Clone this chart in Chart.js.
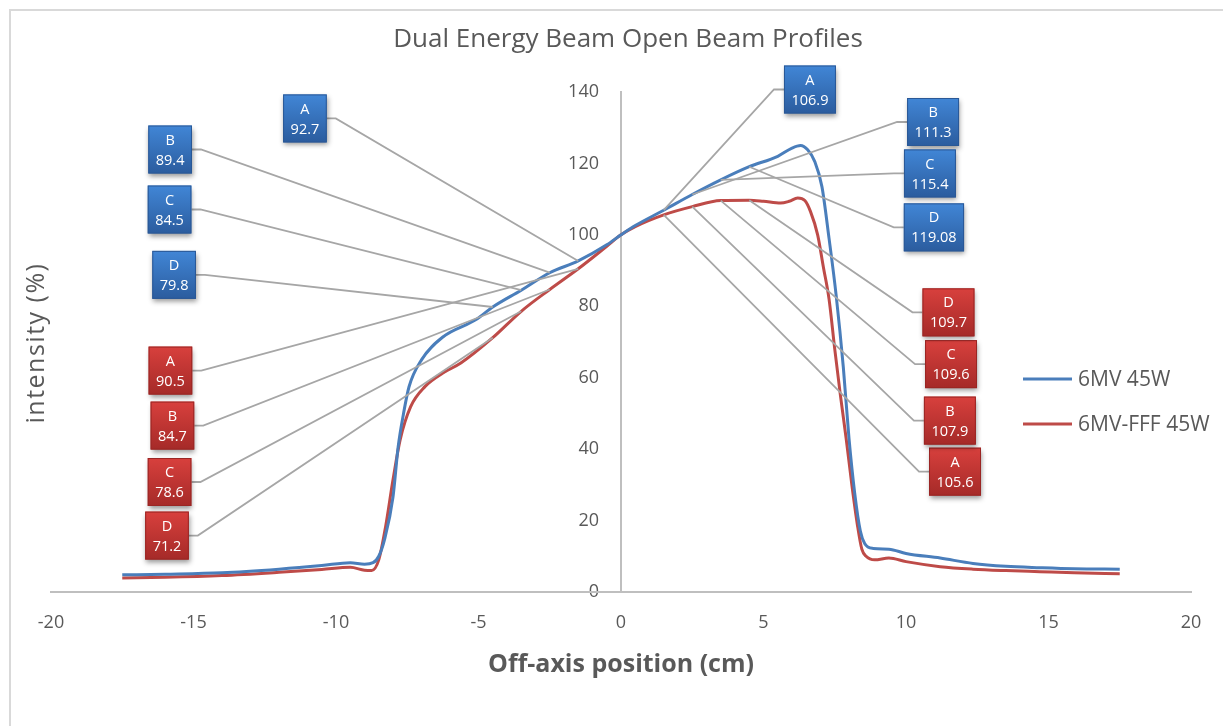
<!DOCTYPE html>
<html>
<head>
<meta charset="utf-8">
<script src="https://cdn.jsdelivr.net/npm/chart.js@4.4.1/dist/chart.umd.min.js"></script>
<style>
  html, body { margin: 0; padding: 0; background: #fff; }
  #wrap { width: 1223px; height: 726px; position: relative; }
</style>
</head>
<body>
<div id="wrap"><canvas id="beamChart" width="1223" height="726"></canvas></div>
<script>
const chartTitle = "Dual Energy Beam Open Beam Profiles";
const xTitle = "Off-axis position (cm)";
const yTitle = "intensity (%)";
const seriesNames = ["6MV 45W", "6MV-FFF 45W"];

// 6MV 45W profile (position in cm, intensity in %)
const flatX = [-17.5, -16, -14, -12, -10.5, -9.5, -9.0, -8.7, -8.5, -8.3, -8.0, -7.82, -7.63, -7.44, -7.0, -6.25, -5.1,
  -4.5, -3.5, -2.5, -1.5, -0.5, 0, 0.5, 1.5, 2.5, 3.5, 4.5, 5.5, 6.0, 6.3, 6.55, 6.8, 7.05, 7.3, 7.55, 7.8, 8.0, 8.2,
  8.4, 8.55, 8.85, 9.4, 10.0, 11.2, 12.35, 13.5, 14.7, 15.9, 17.5];
const flatY = [4.8, 5.0, 5.4, 6.4, 7.4, 8.2, 7.8, 8.2, 10, 14.6, 26.6, 40.6, 50, 57.4, 65, 71.4, 76.2,
  79.8, 84.5, 89.4, 92.7, 97.2, 100, 102.6, 106.9, 111.3, 115.4, 119.08, 122, 124.3, 125, 123.8, 120.5, 113.5, 99, 83, 63, 43, 27.7,
  17, 13.6, 12.2, 12.0, 10.8, 9.5, 8.0, 7.2, 6.8, 6.5, 6.4];

// 6MV-FFF 45W profile
const fffX = [-17.5, -16, -14, -12, -10.5, -9.5, -9.0, -8.75, -8.5, -8.26, -8.0, -7.75, -7.38, -6.88, -6.25, -5.62,
  -4.5, -3.5, -2.5, -1.5, -0.5, 0, 0.5, 1.5, 2.5, 3.5, 4.5, 5.0, 5.6, 5.9, 6.2, 6.45, 6.65, 6.9, 7.1, 7.3, 7.5, 7.7, 7.9,
  8.1, 8.3, 8.45, 8.6, 8.9, 9.4, 10.0, 11.2, 12.35, 13.5, 14.7, 15.9, 17.5];
const fffY = [3.9, 4.1, 4.6, 5.5, 6.3, 6.9, 6.1, 6.0, 9, 18.3, 31.4, 42.6, 51.9, 57.5, 61.3, 64.1,
  71.2, 78.6, 84.7, 90.5, 96.8, 100, 102.3, 105.6, 107.9, 109.6, 109.7, 109.4, 108.9, 109.4, 110.3, 109.6, 106.5, 100, 91, 82, 68, 55, 43,
  30, 18.5, 12, 10, 9.0, 9.5, 8.5, 7.1, 6.4, 6.0, 5.7, 5.4, 5.1];

// callout labels: letter, off-axis position (cm) and the value shown
const calloutLetters = ["A", "B", "C", "D"];
const calloutPos = [1.5, 2.5, 3.5, 4.5];
const flatLeftVals = [92.7, 89.4, 84.5, 79.8];
const flatRightVals = [106.9, 111.3, 115.4, 119.08];
const fffLeftVals = [90.5, 84.7, 78.6, 71.2];
const fffRightVals = [105.6, 107.9, 109.6, 109.7];

// where each callout box sits, in axis units (A, B, C, D)
const flatLeftBox = [[-11.09, 132.6], [-15.82, 123.9], [-15.84, 107.1], [-15.68, 88.8]];
const fffLeftBox = [[-15.81, 62.0], [-15.74, 46.6], [-15.84, 30.8], [-15.93, 15.8]];
const flatRightBox = [[6.63, 140.7], [10.95, 131.6], [10.84, 117.2], [10.98, 102.1]];
const fffRightBox = [[11.72, 33.7], [11.54, 48.0], [11.58, 63.8], [11.49, 78.3]];

const BLUE = "#4A7EBB";
const RED = "#BE4B48";
const TEXT = "#595959";
const FONT = '"Open Sans", "Noto Sans", sans-serif';

const bluePalette = ["#4186D6", "#2B5C9E", "#2A5896"];
const redPalette = ["#D8403D", "#A52A28", "#9A2624"];

const toPoints = (xs, ys) => xs.map((v, i) => ({ x: v, y: ys[i] }));

const callouts = [];
calloutLetters.forEach((letter, i) => {
  callouts.push({ side: -1, x: -calloutPos[i], val: flatLeftVals[i], box: flatLeftBox[i], letter, pal: bluePalette });
  callouts.push({ side: -1, x: -calloutPos[i], val: fffLeftVals[i], box: fffLeftBox[i], letter, pal: redPalette });
  callouts.push({ side: 1, x: calloutPos[i], val: flatRightVals[i], box: flatRightBox[i], letter, pal: bluePalette });
  callouts.push({ side: 1, x: calloutPos[i], val: fffRightVals[i], box: fffRightBox[i], letter, pal: redPalette });
});

const extrasPlugin = {
  id: "extras",
  beforeDraw(chart) {
    const ctx = chart.ctx;
    ctx.save();
    // chart frame
    ctx.strokeStyle = "#D9D9D9";
    ctx.lineWidth = 2;
    ctx.strokeRect(10, 10, 1400, 900);
    // title
    ctx.fillStyle = TEXT;
    ctx.font = "26px " + FONT;
    ctx.textAlign = "center";
    ctx.textBaseline = "middle";
    ctx.fillText(chartTitle, 628, 40);
    // y axis tick labels, left of the centred axis
    const { x, y } = chart.scales;
    ctx.font = "18px " + FONT;
    ctx.textAlign = "right";
    y.ticks.forEach(t => {
      ctx.fillText(String(t.value), x.getPixelForValue(0) - 22, y.getPixelForValue(t.value));
    });
    // y axis title
    ctx.font = "25px " + FONT;
    ctx.textAlign = "center";
    ctx.letterSpacing = "1.5px";
    ctx.translate(37, 343);
    ctx.rotate(-Math.PI / 2);
    ctx.fillText(yTitle, 0, 0);
    ctx.restore();
  },
  afterDatasetsDraw(chart) {
    const { ctx, scales: { x, y } } = chart;
    ctx.save();
    ctx.font = "14.5px " + FONT;
    const boxes = callouts.map(c => {
      const text = [c.letter, String(c.val)];
      const w = Math.max(...text.map(t => ctx.measureText(t).width)) + 15;
      const cx = x.getPixelForValue(c.box[0]);
      const cy = y.getPixelForValue(c.box[1]);
      return { c, text, w, h: 48, cx, cy };
    });
    // leader lines
    ctx.strokeStyle = "#A6A6A6";
    ctx.lineWidth = 1.8;
    boxes.forEach(b => {
      const near = b.c.side < 0 ? b.cx + b.w / 2 : b.cx - b.w / 2;
      const stub = b.c.side < 0 ? near + 9 : near - 10;
      ctx.beginPath();
      ctx.moveTo(near, b.cy);
      ctx.lineTo(stub, b.cy);
      ctx.lineTo(x.getPixelForValue(b.c.x), y.getPixelForValue(b.c.val));
      ctx.stroke();
    });
    // boxes
    boxes.forEach(b => {
      const left = b.cx - b.w / 2, top = b.cy - b.h / 2;
      ctx.save();
      ctx.shadowColor = "rgba(0,0,0,0.4)";
      ctx.shadowBlur = 5;
      ctx.shadowOffsetX = 1;
      ctx.shadowOffsetY = 3;
      const g = ctx.createLinearGradient(0, top, 0, top + b.h);
      g.addColorStop(0, b.c.pal[0]);
      g.addColorStop(1, b.c.pal[1]);
      ctx.fillStyle = g;
      ctx.fillRect(left, top, b.w, b.h);
      ctx.restore();
      ctx.strokeStyle = b.c.pal[2];
      ctx.lineWidth = 1;
      ctx.strokeRect(left + 0.5, top + 0.5, b.w - 1, b.h - 1);
      ctx.fillStyle = "#fff";
      ctx.textAlign = "center";
      ctx.textBaseline = "middle";
      ctx.fillText(b.text[0], b.cx, top + 15);
      ctx.fillText(b.text[1], b.cx, top + 35);
    });
    // legend
    ctx.font = "21px " + FONT;
    ctx.textAlign = "left";
    [BLUE, RED].forEach((col, i) => {
      const ly = 379 + i * 45;
      ctx.strokeStyle = col;
      ctx.lineWidth = 3;
      ctx.beginPath();
      ctx.moveTo(1023, ly);
      ctx.lineTo(1072, ly);
      ctx.stroke();
      ctx.fillStyle = TEXT;
      ctx.fillText(seriesNames[i], 1078, ly + 1);
    });
    ctx.restore();
  }
};

new Chart(document.getElementById("beamChart"), {
  type: "line",
  data: {
    datasets: [
      { label: seriesNames[0], data: toPoints(flatX, flatY), borderColor: BLUE, borderWidth: 3 },
      { label: seriesNames[1], data: toPoints(fffX, fffY), borderColor: RED, borderWidth: 3 }
    ]
  },
  options: {
    responsive: false,
    animation: false,
    elements: {
      point: { radius: 0 },
      line: { cubicInterpolationMode: "monotone", fill: false }
    },
    layout: { padding: { left: 51, right: 32, top: 92, bottom: 0 } },
    plugins: { legend: { display: false }, title: { display: false }, tooltip: { enabled: false } },
    scales: {
      x: {
        type: "linear",
        min: -20,
        max: 20,
        afterFit: s => { s.height = 134; },
        ticks: { stepSize: 5, autoSkip: false, maxRotation: 0, padding: 20, color: TEXT, font: { family: FONT, size: 18 } },
        grid: { display: false, drawTicks: false },
        border: { display: true, color: "#BFBFBF", width: 2 },
        title: { display: true, text: xTitle, color: TEXT, font: { family: FONT, size: 25, weight: "bold" }, padding: { top: 0, bottom: 46 } }
      },
      y: {
        type: "linear",
        min: 0,
        max: 140,
        position: { x: 0 },
        ticks: { stepSize: 20, display: false },
        grid: { display: false, drawTicks: false },
        border: { display: true, color: "#BFBFBF", width: 2 }
      }
    }
  },
  plugins: [extrasPlugin]
});
</script>
</body>
</html>
